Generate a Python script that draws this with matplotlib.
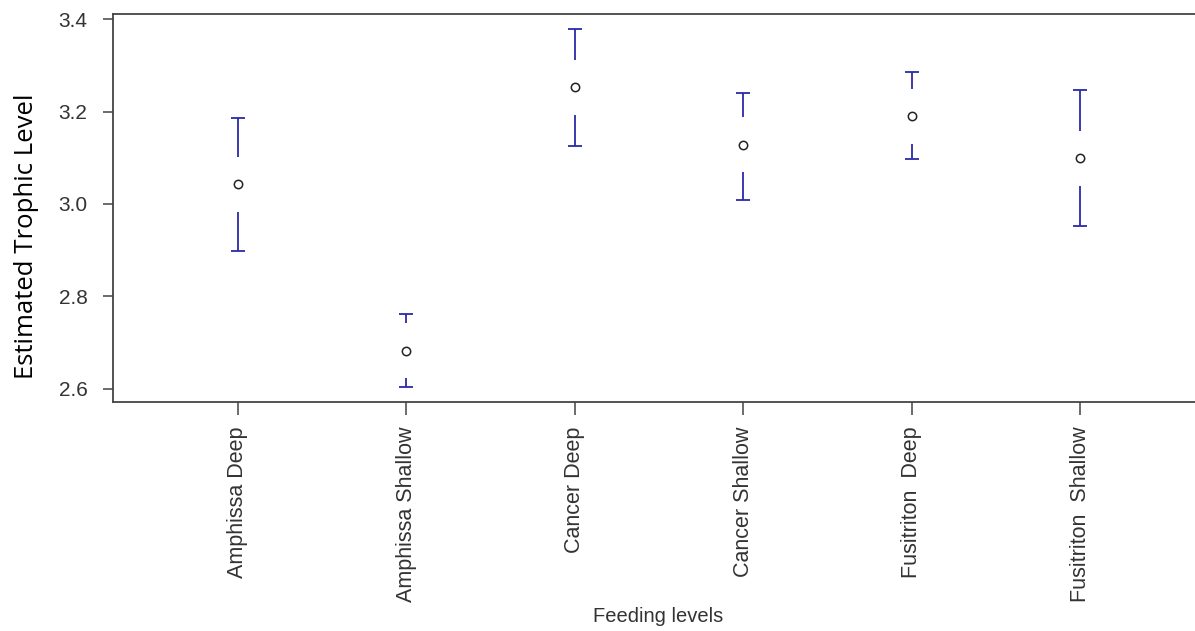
import matplotlib
matplotlib.use("Agg")
import matplotlib.pyplot as plt
import numpy as np

categories = ["Amphissa Deep", "Amphissa Shallow", "Cancer Deep", "Cancer Shallow",
              "Fusitriton  Deep", "Fusitriton  Shallow"]
means = [3.043, 2.682, 3.253, 3.128, 3.190, 3.099]
upper = [3.186, 2.762, 3.378, 3.240, 3.285, 3.246]
lower = [2.898, 2.604, 3.125, 3.009, 3.097, 2.952]
yticks = [2.6, 2.8, 3.0, 3.2, 3.4]

plt.rcParams['font.family'] = ['Liberation Sans', 'DejaVu Sans']
DPI = 100
fig = plt.figure(figsize=(11.95, 6.31), dpi=DPI)
ax = fig.add_axes([113.3 / 1195, 1 - 401.7 / 631, 1 - 113.3 / 1195, (401.7 - 14) / 631])

x = np.arange(1, len(categories) + 1)
ax.set_xlim(0.26, 6.68)
ax.set_ylim(2.572, 3.411)

fig.canvas.draw()
# gap in data units equivalent to ~27.5 px
p0 = ax.transData.transform((0, 3.0))
p1 = ax.transData.transform((0, 3.1))
px_per_unit = (p1[1] - p0[1]) / 0.1
gap = 27.5 / px_per_unit

blue = '#2a2aa8'
for xi, m, u, l in zip(x, means, upper, lower):
    top_start = m + gap
    if u > top_start:
        ax.plot([xi, xi], [top_start, u], color=blue, lw=1.3, solid_capstyle='butt')
    bot_start = m - gap
    if l < bot_start:
        ax.plot([xi, xi], [l, bot_start], color=blue, lw=1.3, solid_capstyle='butt')
    for yv in (u, l):
        ax.plot([xi], [yv], marker='_', markersize=10.5, mew=1.3, color=blue, linestyle='none')

ax.plot(x, means, linestyle='none', marker='o', markersize=6, mfc='white', mec='#222222', mew=1.1)

ax.spines['right'].set_visible(False)
for s in ['left', 'top', 'bottom']:
    ax.spines[s].set_color('#444444')
    ax.spines[s].set_linewidth(1.3)

ax.set_yticks(yticks)
ax.set_yticklabels([f"{v:.1f}" for v in yticks])
ax.set_xticks(x)
ax.set_xticklabels(categories, rotation=90)
ax.tick_params(axis='y', length=7.5, width=1.1, color='#444444', labelsize=15,
               labelcolor='#333333', pad=11)
ax.tick_params(axis='x', length=9, width=1.1, color='#444444', labelsize=15.5,
               labelcolor='#333333', pad=9)

fig.text(27 / 1195, 1 - 236 / 631, "Estimated Trophic Level", fontsize=18.5,
         family=['Open Sans', 'DejaVu Sans'], color='black', rotation=90,
         ha='center', va='center')
fig.text(658 / 1195, 1 - 617 / 631, "Feeding levels", fontsize=14.5, color='#333333',
         ha='center', va='center')

fig.savefig("out.png", dpi=DPI)
